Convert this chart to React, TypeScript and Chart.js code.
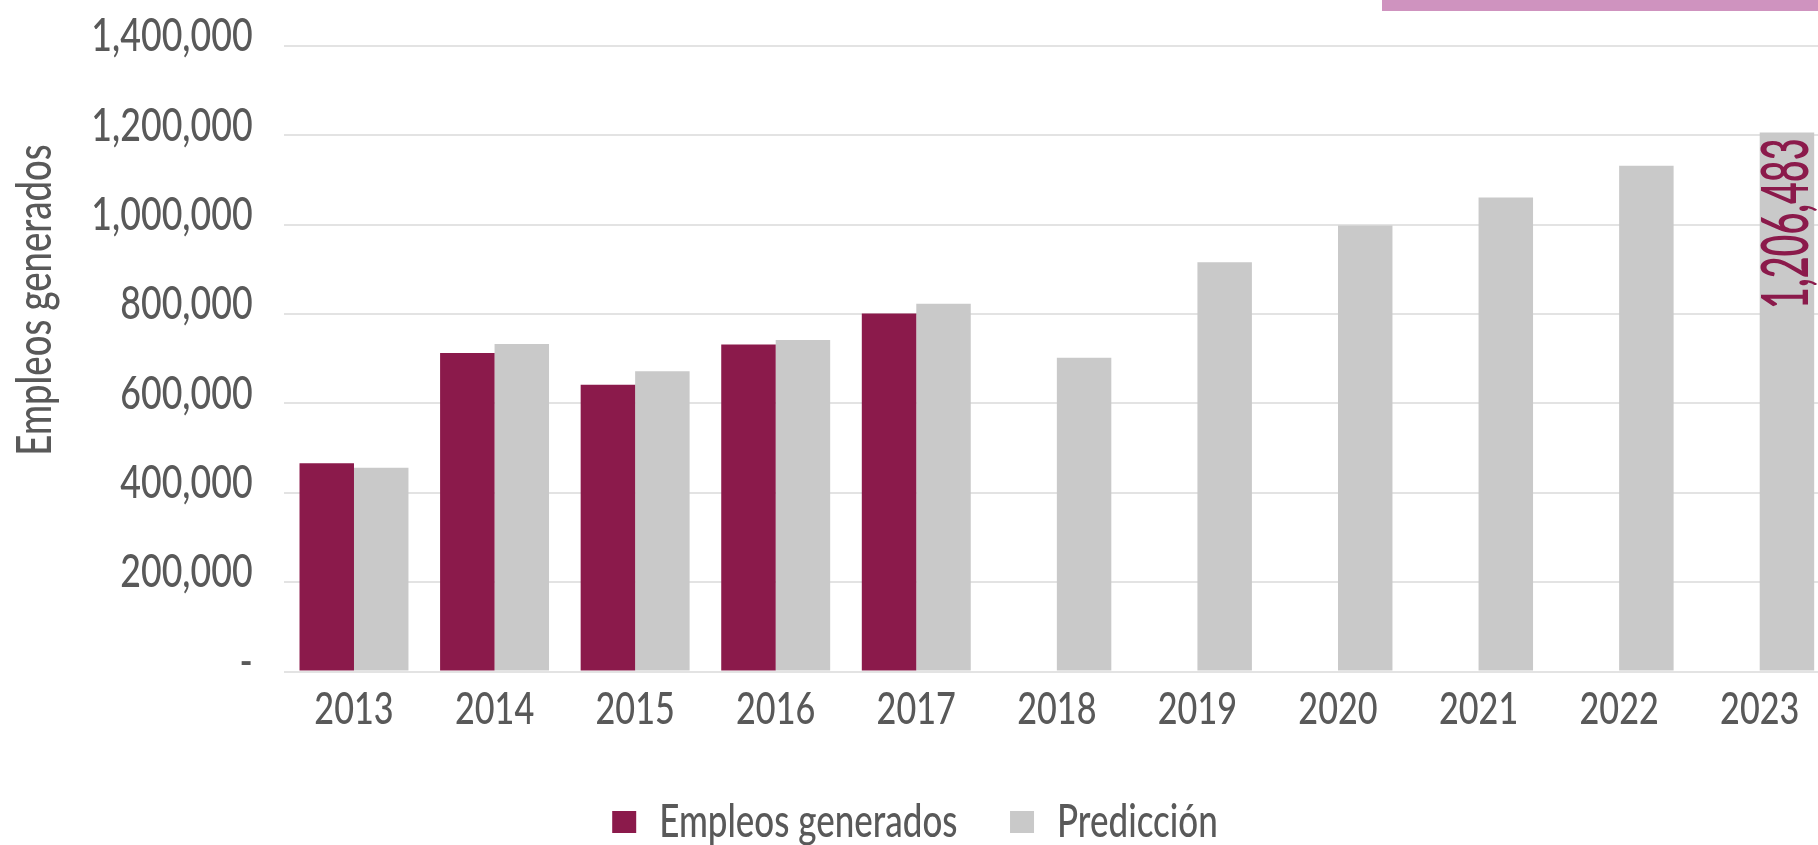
import React, { useEffect, useRef } from 'react';
import { Chart, registerables } from 'chart.js';

Chart.register(...registerables);

// ---- data ----
const YEARS = ['2013', '2014', '2015', '2016', '2017', '2018', '2019', '2020', '2021', '2022', '2023'];
const EMPLEOS: (number | null)[] = [466000, 713000, 642000, 732000, 801000, null, null, null, null, null, null];
const PREDICCION: number[] = [456000, 733000, 672000, 742000, 823000, 702000, 916000, 998000, 1061000, 1132000, 1206483];
const SERIES_NAMES = ['Empleos generados', 'Predicción'];
const Y_TITLE = 'Empleos generados';
const Y_MIN = 0;
const Y_MAX = 1400000;
const Y_STEP = 200000;
const LABELED_INDEX = 10;

// ---- styles ----
const PURPLE = '#8B1A4B';
const GRAY = '#C9C9C9';
const TEXT = '#595959';
const GRID = '#E3E3E3';
const FONT = 'Lato';
const WEIGHT = '500';
const BASE_CONDENSE = 0.76;

let condense = BASE_CONDENSE;

function patchContext(ctx: any) {
  if (ctx.__condensed) return;
  ctx.__condensed = true;
  const fill = ctx.fillText.bind(ctx);
  const measure = ctx.measureText.bind(ctx);
  ctx.fillText = (text: string, x: number, y: number, maxWidth?: number) => {
    const k = condense;
    ctx.save();
    ctx.translate(x, y);
    ctx.scale(k, 1);
    if (maxWidth !== undefined && maxWidth !== null) fill(text, 0, 0, maxWidth / k);
    else fill(text, 0, 0);
    ctx.restore();
  };
  ctx.measureText = (text: string) => {
    const m = measure(text);
    const k = condense;
    return {
      width: m.width * k,
      actualBoundingBoxAscent: m.actualBoundingBoxAscent,
      actualBoundingBoxDescent: m.actualBoundingBoxDescent,
      actualBoundingBoxLeft: m.actualBoundingBoxLeft * k,
      actualBoundingBoxRight: m.actualBoundingBoxRight * k,
      fontBoundingBoxAscent: m.fontBoundingBoxAscent,
      fontBoundingBoxDescent: m.fontBoundingBoxDescent,
    };
  };
}

const yTitlePlugin = {
  id: 'yTitleCustom',
  afterDraw(chart: any) {
    const { ctx } = chart;
    ctx.save();
    ctx.translate(36, 300);
    ctx.rotate(-Math.PI / 2);
    ctx.font = `${WEIGHT} 48px ${FONT}`;
    ctx.fillStyle = TEXT;
    ctx.textAlign = 'center';
    ctx.textBaseline = 'middle';
    condense = BASE_CONDENSE;
    ctx.fillText(Y_TITLE, 0, 0);
    ctx.restore();
  },
};

const valueLabelPlugin = {
  id: 'valueLabel',
  afterDatasetsDraw(chart: any) {
    const meta = chart.getDatasetMeta(1);
    const bar = meta.data[LABELED_INDEX];
    if (!bar) return;
    const { ctx } = chart;
    ctx.save();
    ctx.translate(bar.x, bar.y + 6);
    ctx.rotate(-Math.PI / 2);
    ctx.font = `600 65px ${FONT}`;
    ctx.fillStyle = PURPLE;
    ctx.textAlign = 'right';
    ctx.textBaseline = 'middle';
    condense = 0.58;
    ctx.fillText(PREDICCION[LABELED_INDEX].toLocaleString('en-US'), 0, 0);
    condense = BASE_CONDENSE;
    ctx.restore();
  },
};

export default function App() {
  const ref = useRef<HTMLCanvasElement>(null);

  useEffect(() => {
    document.body.style.margin = '0';
    const canvas = ref.current!;
    const ctx = canvas.getContext('2d')!;
    patchContext(ctx);
    Chart.defaults.font.family = FONT;

    const chart = new Chart(ctx, {
      type: 'bar',
      data: {
        labels: YEARS,
        datasets: [
          {
            label: SERIES_NAMES[0],
            data: EMPLEOS,
            backgroundColor: PURPLE,
            borderWidth: 0,
            categoryPercentage: 0.775,
            barPercentage: 1,
          },
          {
            label: SERIES_NAMES[1],
            data: PREDICCION,
            backgroundColor: GRAY,
            borderWidth: 0,
            categoryPercentage: 0.775,
            barPercentage: 1,
          },
        ],
      },
      options: {
        responsive: false,
        animation: false,
        devicePixelRatio: 1,
        layout: { padding: { top: 46, right: 10, bottom: 0, left: 0 } },
        scales: {
          x: {
            grid: { display: false, drawTicks: false },
            border: { display: false },
            ticks: {
              color: TEXT,
              font: { size: 45, family: FONT, weight: WEIGHT },
              padding: 10.5,
              maxRotation: 0,
              autoSkip: false,
            },
          },
          y: {
            min: Y_MIN,
            max: Y_MAX,
            grid: { color: GRID, lineWidth: 2, drawTicks: false },
            border: { display: false },
            ticks: {
              stepSize: Y_STEP,
              color: TEXT,
              font: { size: 47, family: FONT, weight: WEIGHT },
              padding: 31,
              labelOffset: -10,
              callback: (v: any) => (Number(v) === 0 ? '-' : Number(v).toLocaleString('en-US')),
            },
            afterFit: (scale: any) => {
              scale.width = 283.7;
              scale.paddingTop = 0;
              scale.paddingBottom = 0;
            },
          },
        },
        plugins: {
          legend: {
            position: 'bottom',
            maxHeight: 98.5,
            labels: {
              color: TEXT,
              font: { size: 46, family: FONT, weight: WEIGHT },
              boxWidth: 24,
              boxHeight: 22,
              padding: 52.5,
            },
          },
          tooltip: { enabled: false },
        },
      } as any,
      plugins: [yTitlePlugin, valueLabelPlugin],
    });

    return () => chart.destroy();
  }, []);

  return (
    <div style={{ position: 'relative', width: 1818, height: 845, overflow: 'hidden', background: '#fff' }}>
      <canvas ref={ref} width={1840} height={845} style={{ display: 'block', width: 1840, height: 845 }} />
      <div style={{ position: 'absolute', left: 1382, top: 0, width: 436, height: 11, background: '#CF93BF' }} />
    </div>
  );
}
